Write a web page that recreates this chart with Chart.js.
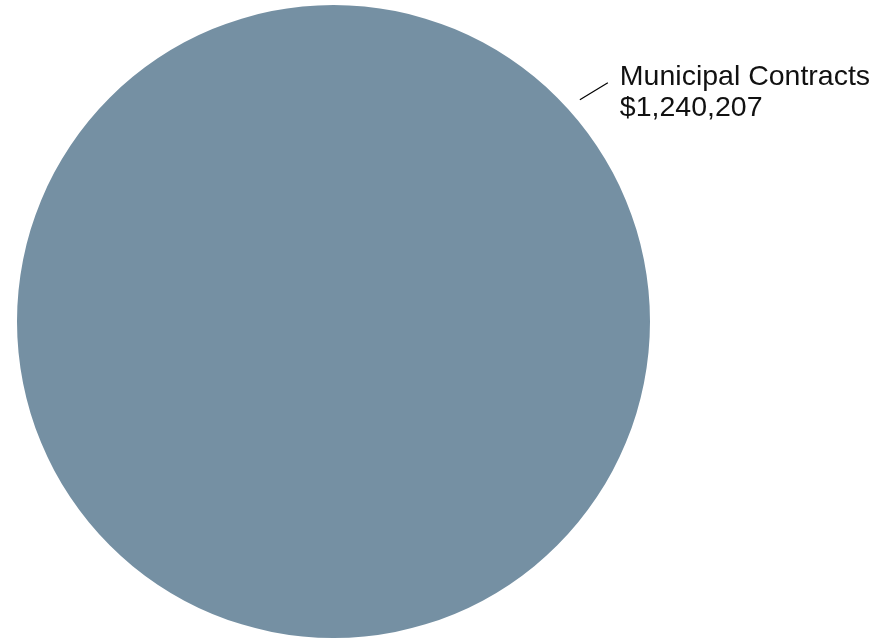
<!DOCTYPE html>
<html>
<head>
<meta charset="utf-8">
<script src="https://cdn.jsdelivr.net/npm/chart.js@4/dist/chart.umd.min.js"></script>
<style>
  html, body { margin: 0; padding: 0; background: #ffffff; }
  #wrap { width: 894px; height: 641px; }
</style>
</head>
<body>
<div id="wrap"><canvas id="pie"></canvas></div>
<script>
// Revenue sources
const categories = ['Municipal Contracts'];
const amounts = [1240207];
const sliceColors = ['#7590a3'];

const fmtMoney = v => '$' + v.toLocaleString('en-US');

// Callout: leader line from the slice edge to a two-line label
const calloutPlugin = {
  id: 'callout',
  afterDatasetsDraw(chart) {
    const ctx = chart.ctx;
    const meta = chart.getDatasetMeta(0);
    meta.data.forEach((arc, i) => {
      const a = -42 * Math.PI / 180;
      const r = arc.outerRadius + 15;
      const sx = arc.x + r * Math.cos(a);
      const sy = arc.y + r * Math.sin(a);
      const ex = sx + 28, ey = sy - 17;
      ctx.save();
      ctx.strokeStyle = '#000000';
      ctx.lineWidth = 1.2;
      ctx.beginPath();
      ctx.moveTo(sx, sy);
      ctx.lineTo(ex, ey);
      ctx.stroke();
      ctx.fillStyle = '#111111';
      ctx.font = '28.5px "Liberation Sans", Arial, sans-serif';
      ctx.textAlign = 'left';
      ctx.textBaseline = 'alphabetic';
      ctx.fillText(categories[i], ex + 12, ey + 2);
      ctx.fillText(fmtMoney(amounts[i]), ex + 12, ey + 33);
      ctx.restore();
    });
  }
};

new Chart(document.getElementById('pie'), {
  type: 'pie',
  data: {
    labels: categories,
    datasets: [{
      data: amounts,
      backgroundColor: sliceColors,
      borderWidth: 0
    }]
  },
  options: {
    responsive: true,
    maintainAspectRatio: false,
    animation: false,
    layout: { padding: { left: 17, right: 244, top: 5, bottom: 3 } },
    plugins: {
      legend: { display: false },
      tooltip: { enabled: false }
    }
  },
  plugins: [calloutPlugin]
});
</script>
</body>
</html>
